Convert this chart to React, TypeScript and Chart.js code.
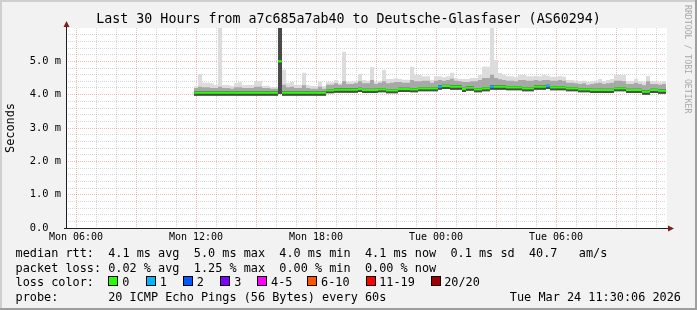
import React, { useEffect, useRef } from "react";
import { Chart, registerables } from "chart.js";

Chart.register(...registerables);

const MONO = '"DejaVu Sans Mono", "Liberation Mono", monospace';

// ---- axes (x in hours since Mon 00:00, y in milliseconds) ----
const X_MIN_HOUR = 5.5; // Mon 05:30
const X_MAX_HOUR = 35.5; // Tue 11:30
const xGridHours = [6, 7, 8, 9, 10, 11, 12, 13, 14, 15, 16, 17, 18, 19, 20, 21, 22, 23, 24, 25, 26, 27, 28, 29, 30, 31, 32, 33, 34, 35];
const xTickHours = [6, 12, 18, 24, 30];
const xTickLabels = ["Mon 06:00", "Mon 12:00", "Mon 18:00", "Tue 00:00", "Tue 06:00"];

const Y_MIN_MS = 0;
const Y_MAX_MS = 6;
const yGridMs = [0, 0.2, 0.4, 0.6, 0.8, 1, 1.2, 1.4, 1.6, 1.8, 2, 2.2, 2.4, 2.6, 2.8, 3, 3.2, 3.4, 3.6, 3.8, 4, 4.2, 4.4, 4.6, 4.8, 5, 5.2, 5.4, 5.6, 5.8];
const yLabelMs = [0, 1, 2, 3, 4, 5];
const yTickLabels = ["0.0  ", "1.0 m", "2.0 m", "3.0 m", "4.0 m", "5.0 m"];

// ---- data: 12-minute bins starting Mon 11:54 ----
const BIN_START_HOUR = 11.9;
const BIN_HOURS = 0.2;

const medianMs = [
  4.06, 4.06, 4.06, 4.06, 4.06, 4.06, 4.06, 4.06, 4.06, 4.06, 4.06, 4.06, 4.06, 4.06, 4.06, 4.06, 4.06, 4.06, 4.06, 4.06, 4.06,
  5.0,
  4.06, 4.06, 4.06, 4.06, 4.06, 4.06, 4.06, 4.06, 4.06, 4.06, 4.06,
  4.13, 4.13, 4.15, 4.15, 4.15, 4.15, 4.15, 4.15, 4.17, 4.14, 4.14, 4.14, 4.14, 4.16, 4.16, 4.13, 4.13, 4.13,
  4.17, 4.17, 4.17, 4.16, 4.16, 4.19, 4.19, 4.19, 4.19, 4.19, 4.24, 4.26, 4.26, 4.24, 4.24, 4.24, 4.17,
  4.21, 4.21, 4.16, 4.16, 4.19, 4.19, 4.24, 4.24, 4.24, 4.24, 4.22, 4.22, 4.22, 4.22, 4.19, 4.19, 4.19,
  4.24, 4.24, 4.24, 4.26, 4.22, 4.22, 4.22, 4.22, 4.19, 4.19, 4.19, 4.16, 4.16, 4.16,
  4.14, 4.14, 4.14, 4.14, 4.14, 4.14, 4.19, 4.19, 4.19, 4.14, 4.14, 4.14, 4.14, 4.09, 4.09, 4.14, 4.14, 4.12, 4.12,
];

const lossCount = [
  0, 0, 0, 0, 0, 0, 0, 0, 0, 0, 0, 0, 0, 0, 0, 0, 0, 0, 0, 0, 0,
  0,
  0, 0, 0, 0, 0, 0, 0, 0, 0, 0, 0,
  0, 0, 0, 0, 0, 0, 0, 0, 0, 0, 0, 0, 0, 0, 0, 0, 0, 0,
  0, 0, 0, 0, 0, 0, 0, 0, 0, 0, 1, 0, 0, 0, 0, 0, 0,
  0, 0, 0, 0, 0, 0, 1, 0, 0, 0, 0, 0, 0, 0, 0, 0, 0,
  0, 0, 0, 1, 0, 0, 0, 0, 0, 0, 0, 0, 0, 0,
  0, 0, 0, 0, 0, 0, 0, 0, 0, 0, 0, 0, 0, 0, 0, 0, 0, 0, 0,
];

const smokeLowMs = [
  3.97, 3.97, 3.97, 3.97, 3.97, 3.97, 3.97, 3.97, 3.97, 3.97, 3.97, 3.97, 3.97, 3.97, 3.97, 3.97, 3.97, 3.97, 3.97, 3.97, 3.97,
  4.02,
  3.97, 3.97, 3.97, 3.97, 3.97, 3.97, 3.97, 3.97, 3.97, 3.97, 3.97,
  4.04, 4.04, 4.06, 4.06, 4.06, 4.06, 4.06, 4.06, 4.08, 4.05, 4.05, 4.05, 4.05, 4.07, 4.07, 4.04, 4.04, 4.04,
  4.08, 4.08, 4.08, 4.07, 4.07, 4.1, 4.1, 4.1, 4.1, 4.1, 4.15, 4.17, 4.17, 4.15, 4.15, 4.15, 4.08,
  4.12, 4.12, 4.07, 4.07, 4.1, 4.1, 4.15, 4.15, 4.15, 4.15, 4.13, 4.13, 4.13, 4.13, 4.1, 4.1, 4.1,
  4.15, 4.15, 4.15, 4.17, 4.13, 4.13, 4.13, 4.13, 4.1, 4.1, 4.1, 4.07, 4.07, 4.07,
  4.05, 4.05, 4.05, 4.05, 4.05, 4.05, 4.1, 4.1, 4.1, 4.05, 4.05, 4.05, 4.05, 4.0, 4.0, 4.05, 4.05, 4.03, 4.03,
];

const smokeDarkMs = [
  4.1, 4.1, 4.1, 4.1, 4.1, 4.1, 4.1, 4.1, 4.1, 4.1, 4.1, 4.1, 4.1, 4.1, 4.1, 4.1, 4.1, 4.1, 4.1, 4.1, 4.1,
  6.5,
  4.1, 4.1, 4.1, 4.1, 4.1, 4.1, 4.1, 4.1, 4.1, 4.1, 4.1,
  4.17, 4.17, 4.19, 4.19, 4.19, 4.19, 4.19, 4.19, 4.21, 4.18, 4.18, 4.18, 4.18, 4.2, 4.2, 4.17, 4.17, 4.17,
  4.21, 4.21, 4.21, 4.2, 4.2, 4.23, 4.23, 4.23, 4.23, 4.23, 4.28, 4.3, 4.3, 4.28, 4.28, 4.28, 4.21,
  4.25, 4.25, 4.2, 4.2, 4.23, 4.23, 4.28, 4.28, 4.28, 4.28, 4.26, 4.26, 4.26, 4.26, 4.23, 4.23, 4.23,
  4.28, 4.28, 4.28, 4.3, 4.26, 4.26, 4.26, 4.26, 4.23, 4.23, 4.23, 4.2, 4.2, 4.2,
  4.18, 4.18, 4.18, 4.18, 4.18, 4.18, 4.23, 4.23, 4.23, 4.18, 4.18, 4.18, 4.18, 4.13, 4.13, 4.18, 4.18, 4.16, 4.16,
];

const smokeMidMs = [
  4.2, 4.24, 4.22, 4.22, 4.2, 4.2, 4.24, 4.2, 4.2, 4.18, 4.22, 4.22, 4.2, 4.2, 4.2, 4.24, 4.24, 4.2, 4.2, 4.18, 4.18,
  6.5,
  4.3, 4.22, 4.24, 4.2, 4.2, 4.28, 4.2, 4.18, 4.18, 4.24, 4.18,
  4.3, 4.3, 4.34, 4.3, 4.4, 4.32, 4.32, 4.34, 4.4, 4.34, 4.34, 4.44, 4.32, 4.36, 4.4, 4.34, 4.36, 4.38,
  4.38, 4.36, 4.36, 4.44, 4.4, 4.4, 4.42, 4.42, 4.36, 4.42, 4.44, 4.42, 4.44, 4.48, 4.42, 4.4, 4.38,
  4.38, 4.4, 4.4, 4.44, 4.5, 4.5, 4.6, 4.5, 4.46, 4.44, 4.42, 4.42, 4.4, 4.44, 4.44, 4.42, 4.42,
  4.44, 4.42, 4.44, 4.44, 4.42, 4.42, 4.44, 4.42, 4.36, 4.36, 4.34, 4.32, 4.34, 4.3,
  4.32, 4.34, 4.36, 4.32, 4.34, 4.36, 4.42, 4.42, 4.4, 4.32, 4.32, 4.36, 4.32, 4.28, 4.4, 4.32, 4.32, 4.3, 4.32,
];

const smokeHighMs = [
  4.25, 4.62, 4.36, 4.36, 4.34, 4.29, 6.5, 4.29, 4.29, 4.26, 4.34, 4.37, 4.29, 4.29, 4.29, 4.41, 4.41, 4.27, 4.27, 4.22, 4.22,
  6.5,
  4.75, 4.35, 4.39, 4.29, 4.3, 4.66, 4.29, 4.26, 4.26, 4.39, 4.26,
  4.37, 4.37, 4.44, 4.34, 5.29, 4.39, 4.39, 4.4, 4.62, 4.44, 4.42, 4.82, 4.39, 4.42, 4.74, 4.47, 4.47, 4.49,
  4.47, 4.45, 4.45, 4.84, 4.59, 4.59, 4.55, 4.55, 4.44, 4.55, 4.55, 4.52, 4.55, 4.66, 4.5, 4.47, 4.47,
  4.47, 4.5, 4.5, 4.59, 4.84, 4.84, 6.5, 5.04, 4.65, 4.59, 4.55, 4.55, 4.52, 4.59, 4.59, 4.55, 4.55,
  4.57, 4.55, 4.59, 4.57, 4.54, 4.54, 4.56, 4.54, 4.44, 4.44, 4.42, 4.4, 4.42, 4.38,
  4.4, 4.42, 4.47, 4.4, 4.44, 4.47, 4.59, 4.59, 4.59, 4.4, 4.4, 4.47, 4.4, 4.37, 4.56, 4.4, 4.4, 4.37, 4.4,
];

// ---- legend ----
const lossClasses = ["0", "1", "2", "3", "4-5", "6-10", "11-19", "20/20"];
const lossColors = ["#26ff00", "#00b8ff", "#0059ff", "#7e00ff", "#ff00ff", "#ff5500", "#ff0000", "#a10000"];
const titleText = "Last 30 Hours from a7c685a7ab40 to Deutsche-Glasfaser (AS60294)";
const rttRow = "median rtt:  4.1 ms avg  5.0 ms max  4.0 ms min  4.1 ms now  0.1 ms sd  40.7   am/s";
const lossRow = "packet loss: 0.02 % avg  1.25 % max  0.00 % min  0.00 % now";
const colorRowLabel = "loss color:";
const probeRow = "probe:       20 ICMP Echo Pings (56 Bytes) every 60s";
const stampText = "Tue Mar 24 11:30:06 2026";
const yAxisTitle = "Seconds";
const watermark = "RRDTOOL / TOBI OETIKER";

// legend layout (pixels)
const legendBoxX = [108, 146, 183, 220, 257, 307, 366, 431];
const legendTextX = [122.3, 159.8, 196.8, 234.2, 271, 321, 379.2, 444.2];

function lossIndex(n: number): number {
  if (n <= 3) return n;
  if (n <= 5) return 4;
  if (n <= 10) return 5;
  if (n <= 19) return 6;
  return 7;
}

function stepPoints(values: number[]) {
  const pts = values.map((v, i) => ({ x: BIN_START_HOUR + i * BIN_HOURS, y: v }));
  pts.push({ x: BIN_START_HOUR + values.length * BIN_HOURS, y: values[values.length - 1] });
  return pts;
}

function medianPoints(values: number[]) {
  const pts: { x: number; y: number | null }[] = [];
  values.forEach((v, i) => {
    const x0 = BIN_START_HOUR + i * BIN_HOURS;
    pts.push({ x: x0, y: v }, { x: x0 + BIN_HOURS, y: v }, { x: x0 + BIN_HOURS, y: null });
  });
  return pts;
}

const near = (a: number, b: number) => Math.abs(a - b) < 1e-6;

const MAJOR_GRID = "rgba(222,79,79,0.4)";
const MINOR_GRID = "rgba(150,150,150,0.38)";

const framePlugin = {
  id: "rrdFrame",
  beforeDraw(chart: any) {
    const { ctx, width, height, chartArea: a } = chart;
    ctx.save();
    ctx.fillStyle = "#f2f2f2";
    ctx.fillRect(0, 0, width, height);
    ctx.fillStyle = "#cfcfcf";
    ctx.fillRect(0, 0, width, 2);
    ctx.fillRect(0, 0, 2, height);
    ctx.fillStyle = "#9e9e9e";
    ctx.fillRect(0, height - 2, width, 2);
    ctx.fillRect(width - 2, 0, 2, height);
    ctx.fillStyle = "#ffffff";
    ctx.fillRect(a.left, a.top, a.right - a.left + 1, a.bottom - a.top);
    ctx.restore();
  },
  afterDraw(chart: any) {
    const { ctx, chartArea: a } = chart;
    ctx.save();
    ctx.fillStyle = "#1f1f1f";
    ctx.fillRect(a.left, a.top - 4, 1, a.bottom - a.top + 5);
    ctx.fillRect(a.left - 2, a.bottom, a.right - a.left + 6, 1);
    ctx.fillStyle = "#801f1f";
    ctx.beginPath();
    ctx.moveTo(a.left + 0.5, a.top - 7);
    ctx.lineTo(a.left - 2.5, a.top - 1);
    ctx.lineTo(a.left + 3.5, a.top - 1);
    ctx.closePath();
    ctx.fill();
    ctx.beginPath();
    ctx.moveTo(a.right + 8, a.bottom + 0.5);
    ctx.lineTo(a.right + 2, a.bottom - 2.5);
    ctx.lineTo(a.right + 2, a.bottom + 3.5);
    ctx.closePath();
    ctx.fill();
    ctx.restore();
  },
};

export default function App() {
  const canvasRef = useRef<HTMLCanvasElement>(null);

  useEffect(() => {
    const canvas = canvasRef.current;
    if (!canvas) return;
    const smoke = (values: number[], color: string, target: number | false) => ({
      data: stepPoints(values),
      borderColor: "rgba(0,0,0,0)",
      borderWidth: 0,
      backgroundColor: color,
      fill: target === false ? false : { target },
      stepped: "before" as const,
      pointRadius: 0,
      tension: 0,
    });
    const chart = new Chart(canvas, {
      type: "line",
      data: {
        datasets: [
          {
            data: medianPoints(medianMs),
            borderColor: lossColors[0],
            borderWidth: 2.2,
            borderCapStyle: "butt",
            pointRadius: 0,
            fill: false,
            spanGaps: false,
            tension: 0,
            segment: {
              borderColor: (ctx: any) => lossColors[lossIndex(lossCount[Math.floor(ctx.p0DataIndex / 3)] || 0)],
            },
          } as any,
          smoke(smokeDarkMs, "#4a4a4a", 4),
          smoke(smokeMidMs, "#a8a8a8", 4),
          smoke(smokeHighMs, "#dcdcdc", 4),
          smoke(smokeLowMs, "rgba(0,0,0,0)", false),
        ],
      },
      plugins: [framePlugin],
      options: {
        responsive: false,
        animation: false,
        events: [],
        layout: { padding: { top: 28, right: 31, left: 0, bottom: 0 } },
        plugins: { legend: { display: false }, tooltip: { enabled: false }, title: { display: false } },
        scales: {
          x: {
            type: "linear",
            min: X_MIN_HOUR,
            max: X_MAX_HOUR,
            afterBuildTicks: (scale: any) => {
              scale.ticks = xGridHours.map((v) => ({ value: v }));
            },
            afterFit: (scale: any) => {
              scale.height = 82;
            },
            grid: {
              drawTicks: false,
              lineWidth: 1,
              color: (ctx: any) => (ctx.tick && ctx.tick.value % 3 === 0 ? MAJOR_GRID : MINOR_GRID),
            },
            border: { display: false, dash: [1, 1] },
            ticks: {
              autoSkip: false,
              maxRotation: 0,
              padding: 3,
              color: "#000",
              font: { family: MONO, size: 10 },
              callback: (value: any) => {
                const i = xTickHours.indexOf(Number(value));
                return i >= 0 ? xTickLabels[i] : "";
              },
            },
          },
          y: {
            type: "linear",
            min: Y_MIN_MS,
            max: Y_MAX_MS,
            afterBuildTicks: (scale: any) => {
              scale.ticks = yGridMs.map((v) => ({ value: v }));
            },
            afterFit: (scale: any) => {
              scale.width = 66;
            },
            grid: {
              drawTicks: false,
              lineWidth: 1,
              color: (ctx: any) => {
                const v = ctx.tick ? ctx.tick.value : 0;
                if (near(v, 0)) return "rgba(0,0,0,0)";
                return near(v, Math.round(v)) ? MAJOR_GRID : MINOR_GRID;
              },
            },
            border: { display: false, dash: [1, 1] },
            ticks: {
              autoSkip: false,
              padding: 5,
              color: "#000",
              font: { family: MONO, size: 10.4 },
              callback: (value: any) => {
                const i = yLabelMs.findIndex((v) => near(v, Number(value)));
                return i >= 0 ? yTickLabels[i] : "";
              },
            },
          },
        },
      } as any,
    });
    return () => chart.destroy();
  }, []);

  const legendFont = `11.85px ${MONO}`;
  const rowStyle = (top: number, left = 15.5): React.CSSProperties => ({
    position: "absolute",
    left,
    top,
    font: legendFont,
    lineHeight: "14px",
    whiteSpace: "pre",
    color: "#000",
  });

  return (
    <div style={{ position: "fixed", left: 0, top: 0, width: 697, height: 310, overflow: "hidden", background: "#f2f2f2" }}>
      <canvas ref={canvasRef} width={697} height={310} style={{ position: "absolute", left: 0, top: 0, width: 697, height: 310 }} />
      <div
        style={{
          position: "absolute",
          left: 0,
          top: 11.2,
          width: 697,
          textAlign: "center",
          font: `13.3px ${MONO}`,
          lineHeight: "16px",
          whiteSpace: "pre",
          color: "#000",
        }}
      >
        {titleText}
      </div>
      <div
        style={{
          position: "absolute",
          left: 3,
          top: 100,
          height: 56,
          width: 14,
          writingMode: "vertical-rl",
          transform: "rotate(180deg)",
          font: legendFont,
          lineHeight: "14px",
          whiteSpace: "pre",
          textAlign: "center",
          color: "#000",
        }}
      >
        {yAxisTitle}
      </div>
      <div
        style={{
          position: "absolute",
          left: 683,
          top: 5,
          width: 10,
          writingMode: "vertical-rl",
          font: `8.2px ${MONO}`,
          lineHeight: "10px",
          whiteSpace: "pre",
          color: "#a8a8a8",
        }}
      >
        {watermark}
      </div>
      <div style={rowStyle(246.4)}>{rttRow}</div>
      <div style={rowStyle(260.9)}>{lossRow}</div>
      <div style={rowStyle(275.4)}>{colorRowLabel}</div>
      {lossClasses.map((label, i) => (
        <React.Fragment key={label}>
          <div
            style={{
              position: "absolute",
              left: legendBoxX[i],
              top: 276,
              width: 8,
              height: 8,
              border: "1px solid #000",
              background: lossColors[i],
            }}
          />
          <div style={rowStyle(275.4, legendTextX[i])}>{label}</div>
        </React.Fragment>
      ))}
      <div style={rowStyle(289.9)}>{probeRow}</div>
      <div style={{ ...rowStyle(289.9), left: "auto", right: 16 }}>{stampText}</div>
    </div>
  );
}
